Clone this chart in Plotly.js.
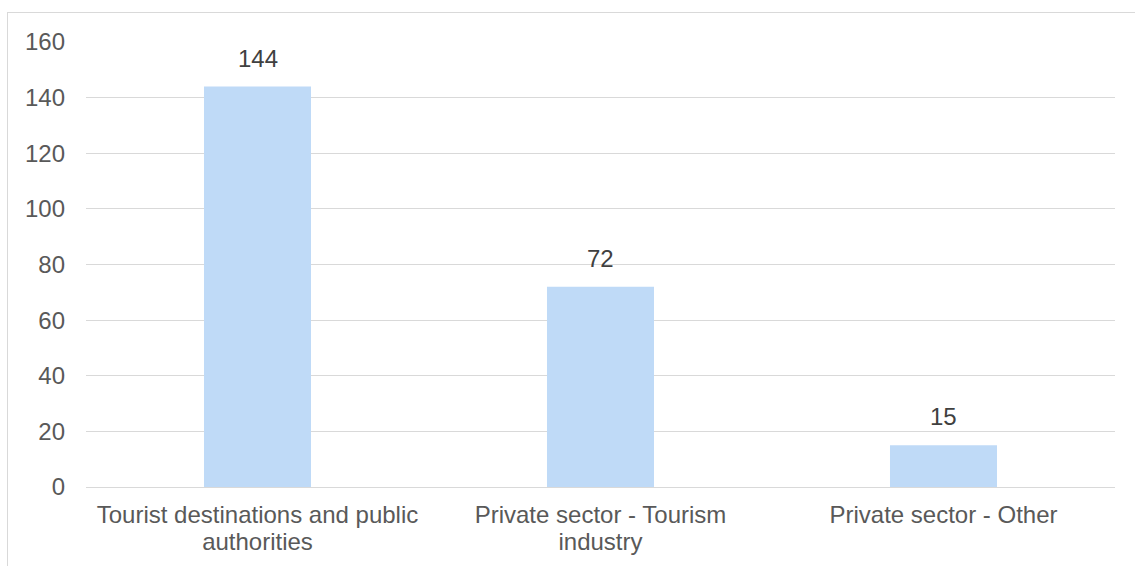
<!DOCTYPE html>
<html>
<head>
<meta charset="utf-8">
<script src="https://cdn.plot.ly/plotly-3.0.1.min.js"></script>
<style>
html,body{margin:0;padding:0;background:#fff;overflow:hidden;}
#wrap{position:relative;width:1135px;height:566px;}
#chart{position:absolute;left:0;top:0;width:1135px;height:566px;}
#frame{position:absolute;left:7px;top:12px;width:1140px;height:600px;border:1px solid #D9D9D9;pointer-events:none;}
</style>
</head>
<body>
<div id="wrap"><div id="chart"></div><div id="frame"></div></div>
<script>
const categories = ["Tourist destinations and public<br>authorities", "Private sector - Tourism<br>industry", "Private sector - Other"];
const values = [144, 72, 15];
const tickValues = [0, 20, 40, 60, 80, 100, 120, 140, 160];

const font = "Liberation Sans, Arial, sans-serif";
const fs = 24;
Plotly.newPlot('chart', [{
  type: 'bar',
  x: categories,
  y: values,
  marker: {color: '#BFDAF7'},
  hoverinfo: 'none'
}], {
  width: 1135, height: 566,
  margin: {l: 86, r: 20, t: 41.5, b: 78.5},
  paper_bgcolor: 'rgba(0,0,0,0)',
  plot_bgcolor: '#fff',
  bargap: 0.688,
  showlegend: false,
  font: {family: font, size: fs, color: '#595959'},
  annotations: categories.map((c, i) => ({
    x: c, y: values[i], xref: 'x', yref: 'y',
    text: String(values[i]), showarrow: false,
    yanchor: 'bottom', yshift: 13,
    font: {family: font, size: fs, color: '#404040'}
  })),
  xaxis: {
    type: 'category',
    showgrid: false,
    showline: true, linecolor: '#D9D9D9', linewidth: 1,
    ticks: '', tickfont: {family: font, size: fs, color: '#595959'},
    ticklabelstandoff: 6,
    zeroline: false
  },
  yaxis: {
    range: [0, 160],
    tickvals: tickValues,
    showgrid: true, gridcolor: '#D9D9D9', gridwidth: 1,
    zeroline: false, showline: false,
    ticks: '', tickfont: {family: font, size: fs, color: '#595959'},
    ticklabelstandoff: 20
  }
}, {staticPlot: true, displayModeBar: false}).then(gd => {
  gd.querySelectorAll('.xtick text tspan.line').forEach(t => {
    const dy = t.getAttribute('dy');
    if (dy && parseFloat(dy) > 0) t.setAttribute('dy', '1.12em');
  });
});
</script>
</body>
</html>
